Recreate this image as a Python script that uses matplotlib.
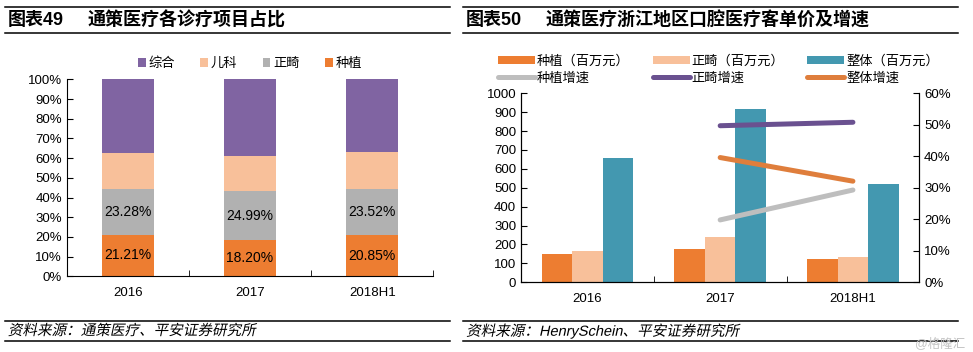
import matplotlib
matplotlib.use("Agg")
import matplotlib.pyplot as plt
import numpy as np
from matplotlib.lines import Line2D
from matplotlib.patheffects import AbstractPathEffect
from matplotlib.transforms import Affine2D
from matplotlib.ticker import PercentFormatter, FixedLocator

plt.rcParams["font.family"] = ["Liberation Sans", "Noto Sans CJK SC", "DejaVu Sans"]
plt.rcParams["axes.unicode_minus"] = False

# ---- left chart data: share of each treatment line ----
years = ["2016", "2017", "2018H1"]
zhongzhi_share = [0.2121, 0.1820, 0.2085]
zhengji_share = [0.2328, 0.2499, 0.2352]
erke_share = [0.179, 0.180, 0.189]
zonghe_share = [0.3761, 0.3881, 0.3673]

# ---- right chart data: unit price and growth ----
zhongzhi_price = [150, 176, 122]
zhengji_price = [166, 240, 134]
zhengti_price = [658, 917, 522]
growth_years = ["2017", "2018H1"]
zhongzhi_growth = [0.198, 0.293]
zhengji_growth = [0.497, 0.508]
zhengti_growth = [0.396, 0.321]

C_ORANGE = "#ED7D31"
C_PEACH = "#F8C09A"
C_GRAY = "#B1B1B1"
C_PURPLE = "#8064A2"
C_TEAL = "#4398B0"


class Oblique(AbstractPathEffect):
    """Fake italic: shear the glyph paths around their baseline."""

    def __init__(self, angle=12):
        super().__init__()
        self.angle = angle

    def draw_path(self, renderer, gc, tpath, affine, rgbFace=None):
        y0 = affine.get_matrix()[1, 2]
        shear = Affine2D().translate(0, -y0).skew_deg(self.angle, 0).translate(0, y0)
        renderer.draw_path(gc, tpath, affine + shear, rgbFace)


fig = plt.figure(figsize=(9.73, 3.52), dpi=100)


def header_footer(x0, x1, title_no, title, source):
    for y in (0.981, 0.906, 0.089, 0.030):
        fig.add_artist(Line2D([x0, x1], [y, y], color="black", lw=1.1,
                              transform=fig.transFigure))
    fig.text(x0 + 0.003, 0.941, title_no, fontsize=13, fontweight="bold",
             va="center", ha="left")
    fig.text(x0 + 0.085, 0.941, title, fontsize=13, fontweight="bold",
             va="center", ha="left")
    fig.text(x0 + 0.003, 0.060, source, fontsize=10.5, va="center",
             ha="left", path_effects=[Oblique(12)])


header_footer(0.005, 0.4625, "图表49", "通策医疗各诊疗项目占比",
              "资料来源：通策医疗、平安证券研究所")
header_footer(0.476, 0.985, "图表50", "通策医疗浙江地区口腔医疗客单价及增速",
              "资料来源：HenrySchein、平安证券研究所")
fig.text(0.992, 0.025, "@格隆汇", fontsize=9, color="#C4C4C4",
         ha="right", va="center")

# ---------------- left: stacked share ----------------
ax1 = fig.add_axes([0.0686, 0.215, 0.3767, 0.5597])
x = np.arange(len(years))
w = 0.43
b1 = ax1.bar(x, zhongzhi_share, w, color=C_ORANGE, label="种植")
bottom = np.array(zhongzhi_share)
b2 = ax1.bar(x, zhengji_share, w, bottom=bottom, color=C_GRAY, label="正畸")
bottom = bottom + np.array(zhengji_share)
b3 = ax1.bar(x, erke_share, w, bottom=bottom, color=C_PEACH, label="儿科")
bottom = bottom + np.array(erke_share)
b4 = ax1.bar(x, zonghe_share, w, bottom=bottom, color=C_PURPLE, label="综合")

for i in range(len(years)):
    ax1.text(x[i], zhongzhi_share[i] / 2, f"{zhongzhi_share[i]*100:.2f}%",
             ha="center", va="center", fontsize=10)
    ax1.text(x[i], zhongzhi_share[i] + zhengji_share[i] / 2,
             f"{zhengji_share[i]*100:.2f}%", ha="center", va="center",
             fontsize=10)

ax1.set_xlim(-0.5, 2.5)
ax1.set_ylim(0, 1)
ax1.set_yticks(np.arange(0, 1.01, 0.1))
ax1.yaxis.set_major_formatter(PercentFormatter(1.0, decimals=0))
ax1.set_xticks(x)
ax1.set_xticklabels(years)
ax1.xaxis.set_minor_locator(FixedLocator([0.5, 1.5, 2.5]))
ax1.tick_params(axis="x", which="major", length=0, labelsize=9.5, pad=8)
ax1.tick_params(axis="x", which="minor", length=4, direction="in")
ax1.tick_params(axis="y", length=4, direction="in", labelsize=9.5)
for s in ("top", "right"):
    ax1.spines[s].set_visible(False)
ax1.legend(handles=[b4, b3, b2, b1], loc="lower center",
           bbox_to_anchor=(0.5, 1.02), ncol=4, frameon=False, fontsize=9.5,
           handlelength=0.6, handleheight=0.6, handletextpad=0.2,
           columnspacing=1.9, borderaxespad=0)

# ---------------- right: price bars + growth lines ----------------
ax2 = fig.add_axes([0.5355, 0.198, 0.4093, 0.537])
bw = 0.23
p1 = ax2.bar(x - bw, zhongzhi_price, bw, color=C_ORANGE, label="种植（百万元）")
p2 = ax2.bar(x, zhengji_price, bw, color=C_PEACH, label="正畸（百万元）")
p3 = ax2.bar(x + bw, zhengti_price, bw, color=C_TEAL, label="整体（百万元）")
ax2.set_xlim(-0.5, 2.5)
ax2.set_ylim(0, 1000)
ax2.set_yticks(np.arange(0, 1001, 100))
ax2.set_xticks(x)
ax2.set_xticklabels(years)
ax2.xaxis.set_minor_locator(FixedLocator([0.5, 1.5, 2.5]))
ax2.tick_params(axis="x", which="major", length=0, labelsize=9.5, pad=8)
ax2.tick_params(axis="x", which="minor", length=4, direction="in")
ax2.tick_params(axis="y", length=4, direction="in", labelsize=9.5)
ax2.spines["top"].set_visible(False)

ax3 = ax2.twinx()
gx = [years.index(g) for g in growth_years]
l1, = ax3.plot(gx, zhongzhi_growth, color="#BEBEBE", lw=3.6,
               solid_capstyle="round", label="种植增速")
l2, = ax3.plot(gx, zhengji_growth, color="#6A5190", lw=3.6,
               solid_capstyle="round", label="正畸增速")
l3, = ax3.plot(gx, zhengti_growth, color="#DF7E3C", lw=3.6,
               solid_capstyle="round", label="整体增速")
ax3.set_ylim(0, 0.6)
ax3.set_yticks(np.arange(0, 0.61, 0.1))
ax3.yaxis.set_major_formatter(PercentFormatter(1.0, decimals=0))
ax3.tick_params(axis="y", length=4, direction="in", labelsize=9.5)
ax3.spines["top"].set_visible(False)

ax2.legend(handles=[p1, l1, p2, l2, p3, l3], loc="lower left",
           bbox_to_anchor=(-0.078, 1.005), ncol=3, frameon=False, fontsize=9.5,
           handlelength=2.8, handleheight=0.6, handletextpad=0.15,
           columnspacing=1.75, labelspacing=0.35, borderaxespad=0.2)

fig.savefig("out.png", dpi=100)
